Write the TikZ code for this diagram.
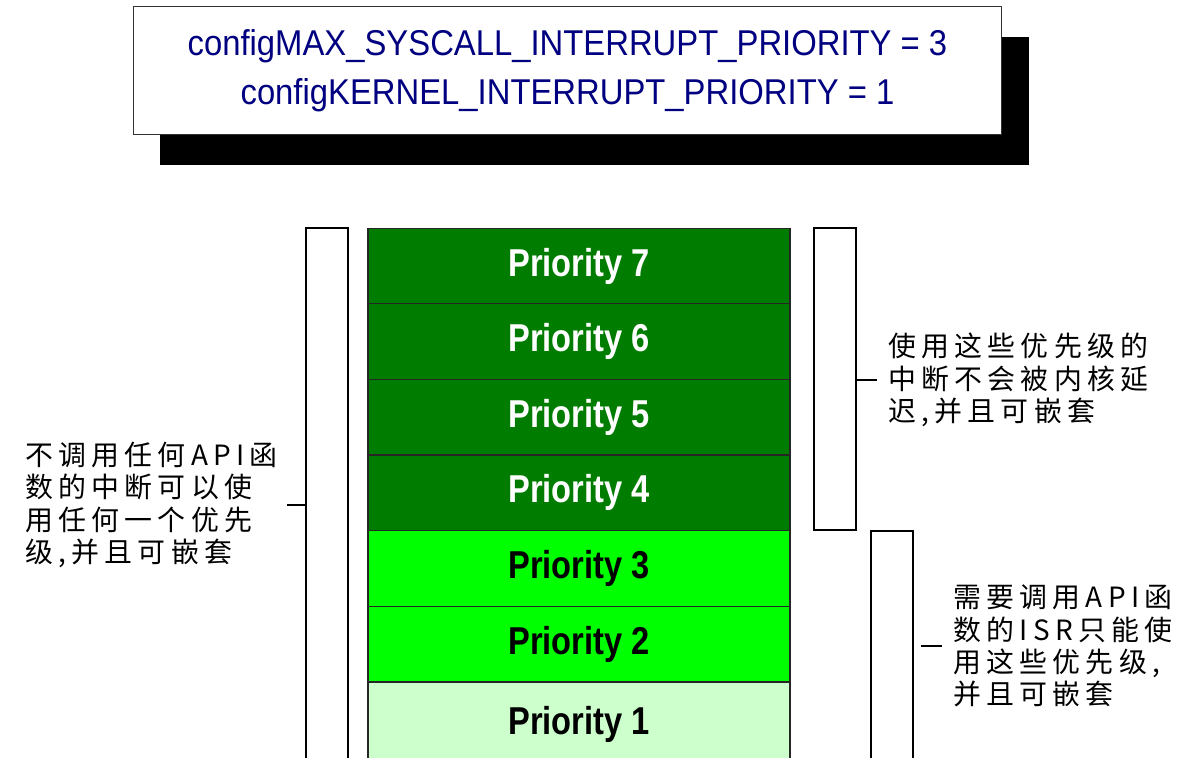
\documentclass[tikz,border=0pt]{standalone}
\usepackage{fontspec}
\setmainfont{Liberation Sans}
\newfontfamily\cfgfont[FakeStretch=0.915]{Liberation Sans}
\newfontfamily\prifont[FakeStretch=0.84]{Liberation Sans}
\newfontfamily\cjk[LetterSpace=19]{Noto Sans CJK SC}
\definecolor{navy}{RGB}{0,0,128}
\definecolor{dgreen}{RGB}{0,124,0}
\definecolor{bgreen}{RGB}{0,255,0}
\definecolor{lgreen}{RGB}{204,255,204}
\begin{document}
\begin{tikzpicture}[x=1bp,y=-1bp,
  brk/.style={draw=black,line width=2bp,fill=white,inner sep=0pt,minimum width=42bp},
  prow/.style={draw=black!85,line width=1.2bp,minimum width=422bp,minimum height=75.6bp,inner sep=0pt,
    font=\prifont\bfseries\fontsize{39}{39}\selectfont},
  hi/.style={prow,fill=dgreen,text=white},
  mid/.style={prow,fill=bgreen,text=black},
  lo/.style={prow,fill=lgreen,text=black},
  note/.style={font=\cjk\fontsize{28}{32.5}\selectfont,align=left,inner sep=0pt,anchor=west},
  tick/.style={draw=black,line width=2bp}]
\useasboundingbox (0,0) rectangle (1181,758);
\clip (0,0) rectangle (1181,758);
% header box with shadow
\fill[black] (160,37) rectangle (1029,165);
\node[draw=black!80,line width=1bp,fill=white,minimum width=867bp,minimum height=127bp,
  align=center,text=navy,font=\cfgfont\fontsize{36}{49}\selectfont] (cfg) at (567.5,70.5)
  {configMAX\_SYSCALL\_INTERRUPT\_PRIORITY = 3\\configKERNEL\_INTERRUPT\_PRIORITY = 1};
% priority rows
\node[hi]  (p7) at (579,266) {\raisebox{-2bp}{Priority 7}};
\node[hi]  (p6) at (579,341.6) {\raisebox{-2bp}{Priority 6}};
\node[hi]  (p5) at (579,417.2) {\raisebox{-2bp}{Priority 5}};
\node[hi]  (p4) at (579,492.8) {\raisebox{-2bp}{Priority 4}};
\node[mid] (p3) at (579,568.4) {\raisebox{-2bp}{Priority 3}};
\node[mid] (p2) at (579,644) {\raisebox{-2bp}{Priority 2}};
\node[lo,minimum height=90bp] (p1) at (579,727) {\raisebox{13bp}{Priority 1}};
% bracket boxes
\node[brk,minimum height=542bp] (lb) at (326.5,499) {};
\node[brk,minimum height=302bp] (rb1) at (835,379) {};
\node[brk,minimum height=239bp] (rb2) at (892,650.5) {};
% notes
\node[note] (lt) at (25,505) {不调用任何API函\\数的中断可以使\\用任何一个优先\\级,并且可嵌套};
\node[note] (rt1) at (888,380) {使用这些优先级的\\中断不会被内核延\\迟,并且可嵌套};
\node[note] (rt2) at (953,646) {需要调用API函\\数的ISR只能使\\用这些优先级,\\并且可嵌套};
% ticks
\draw[tick] (lb.west |- lt.center) -- ++(-18,0);
\draw[tick] (rb1.east |- rt1.center) -- ++(20,0);
\draw[tick] ([xshift=7bp]rb2.east |- rt2.center) -- ++(21,0);
\end{tikzpicture}
\end{document}
